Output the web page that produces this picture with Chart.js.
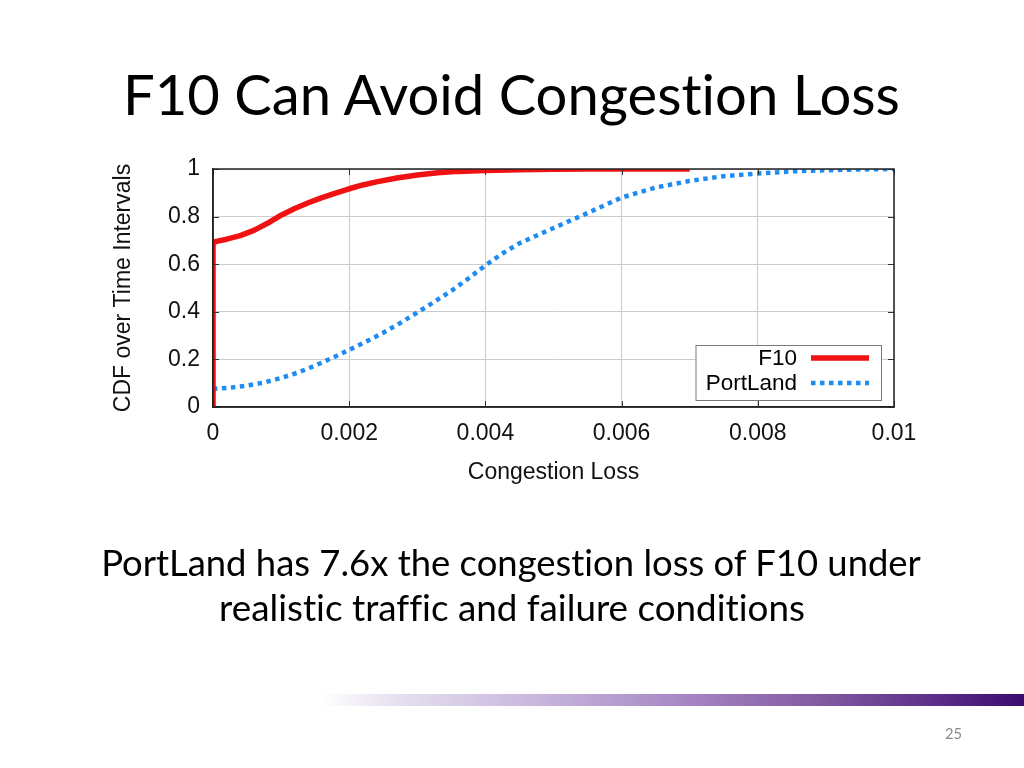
<!DOCTYPE html>
<html>
<head>
<meta charset="utf-8">
<script src="https://cdn.jsdelivr.net/npm/chart.js@4/dist/chart.umd.min.js"></script>
<style>
html, body { margin:0; padding:0; background:#fff; }
body { width:1024px; height:768px; overflow:hidden; position:relative; }
#chart { position:absolute; left:0; top:0; }
.txt { position:absolute; white-space:nowrap; color:#000; margin:0; font-variant-ligatures:none; font-feature-settings:"liga" 0, "clig" 0; }
#bar { position:absolute; left:320px; top:694px; width:704px; height:12px;
  background:linear-gradient(to right, rgba(255,255,255,0) 0%, #e4ddee 12%, #c9b8de 30%, #a98bc6 50%, #80589f 72%, #5a2d88 88%, #3c0a70 100%); }
</style>
</head>
<body>
<canvas id="chart" width="1024" height="768"></canvas>
<div id="title" class="txt">F10 Can Avoid Congestion Loss</div>
<div id="sub1" class="txt">PortLand has 7.6x the congestion loss of F10 under</div>
<div id="sub2" class="txt">realistic traffic and failure conditions</div>
<div id="bar"></div>
<div id="pg" class="txt">25</div>
<script>
// ---- data ----
const xTickValues = [0, 0.002, 0.004, 0.006, 0.008, 0.01];
const xTickLabels = ['0', '0.002', '0.004', '0.006', '0.008', '0.01'];
const yTickValues = [0, 0.2, 0.4, 0.6, 0.8, 1];
const yTickLabels = ['0', '0.2', '0.4', '0.6', '0.8', '1'];
const seriesNames = ['F10', 'PortLand'];

const f10X = [0, 0, 0.00005, 0.0002, 0.0004, 0.0006, 0.0008, 0.001, 0.0012, 0.0014, 0.0016, 0.0018, 0.002, 0.0022, 0.0024, 0.0027, 0.003, 0.0033, 0.0036, 0.004, 0.0045, 0.005, 0.0055, 0.006, 0.007];
const f10Y = [0, 0.69, 0.696, 0.705, 0.72, 0.742, 0.772, 0.806, 0.834, 0.858, 0.88, 0.899, 0.917, 0.933, 0.946, 0.962, 0.975, 0.984, 0.99, 0.994, 0.997, 0.999, 1.0, 1.0, 1.0];

const portlandX = [0, 0, 0.00025, 0.0005, 0.00075, 0.001, 0.00125, 0.0015, 0.00175, 0.002, 0.00225, 0.0025, 0.00275, 0.003, 0.00325, 0.0035, 0.00375, 0.004, 0.00425, 0.0045, 0.00475, 0.005, 0.0055, 0.006, 0.0065, 0.007, 0.0075, 0.008, 0.0085, 0.009, 0.0095, 0.01];
const portlandY = [0, 0.076, 0.081, 0.09, 0.103, 0.122, 0.145, 0.174, 0.206, 0.24, 0.275, 0.312, 0.353, 0.397, 0.442, 0.488, 0.54, 0.595, 0.645, 0.688, 0.72, 0.752, 0.815, 0.88, 0.922, 0.95, 0.97, 0.981, 0.99, 0.995, 0.998, 1.0];

const toPoints = (xs, ys) => xs.map((x, i) => ({ x: x, y: ys[i] }));

// ---- slide text placement (baseline based) ----
const mctx = document.createElement('canvas').getContext('2d');
function placeText(id, family, targetW, baseline, anchorX, align) {
  const el = document.getElementById(id);
  el.style.fontFamily = family;
  el.style.fontSize = '100px';
  const w100 = el.getBoundingClientRect().width;
  const size = 100 * targetW / w100;
  el.style.fontSize = size + 'px';
  const w = el.getBoundingClientRect().width;
  mctx.font = size + 'px ' + family;
  const m = mctx.measureText(el.textContent);
  const A = m.fontBoundingBoxAscent, D = m.fontBoundingBoxDescent;
  const L = Math.ceil(A + D) + 4;
  el.style.lineHeight = L + 'px';
  el.style.top = (baseline - (L - (A + D)) / 2 - A) + 'px';
  el.style.left = (align === 'center' ? anchorX - w / 2 : anchorX) + 'px';
}
placeText('title', 'Lato', 777, 115, 123, 'left');
placeText('sub1', 'Lato', 820, 576, 511, 'center');
placeText('sub2', 'Lato', 586, 621, 512, 'center');
placeText('pg', 'Lato', 17, 739, 945, 'left');
document.getElementById('pg').style.color = '#8a8a8a';

// ---- chart ----
const frame = {
  id: 'frame',
  afterDatasetsDraw(chart) {
    const { ctx, chartArea: a, scales } = chart;
    ctx.save();
    // inward tick marks (mirrored)
    ctx.strokeStyle = '#333';
    ctx.lineWidth = 1;
    ctx.beginPath();
    xTickValues.forEach(v => {
      const px = Math.round(scales.x.getPixelForValue(v)) + 0.5;
      ctx.moveTo(px, a.bottom); ctx.lineTo(px, a.bottom - 6);
      ctx.moveTo(px, a.top); ctx.lineTo(px, a.top + 6);
    });
    yTickValues.forEach(v => {
      const py = Math.round(scales.y.getPixelForValue(v)) + 0.5;
      ctx.moveTo(a.left, py); ctx.lineTo(a.left + 6, py);
      ctx.moveTo(a.right, py); ctx.lineTo(a.right - 6, py);
    });
    ctx.stroke();
    // plot border
    ctx.strokeStyle = '#222';
    ctx.lineWidth = 1.5;
    ctx.strokeRect(a.left, a.top, a.right - a.left, a.bottom - a.top);

    // legend box
    const bx = a.right - 198.5, by = a.bottom - 62, bw = 185.5, bh = 55;
    ctx.fillStyle = '#fff';
    ctx.fillRect(bx, by, bw, bh);
    ctx.strokeStyle = '#7a7a7a';
    ctx.lineWidth = 1;
    ctx.strokeRect(bx + 0.5, by + 0.5, bw, bh);
    const rows = [a.bottom - 49, a.bottom - 24];
    chart.data.datasets.forEach((ds, i) => {
      const y = rows[i];
      ctx.fillStyle = '#000';
      ctx.font = '22.5px "Liberation Sans", Arial, sans-serif';
      ctx.textAlign = 'right';
      ctx.textBaseline = 'middle';
      ctx.fillText(ds.label, a.right - 97, y + 1);
      ctx.beginPath();
      ctx.strokeStyle = ds.borderColor;
      ctx.lineWidth = ds.borderWidth;
      ctx.setLineDash(ds.borderDash || []);
      ctx.lineCap = 'butt';
      ctx.moveTo(a.right - 83, y);
      ctx.lineTo(a.right - 25, y);
      ctx.stroke();
      ctx.setLineDash([]);
    });
    ctx.restore();
  }
};

const tickFont = { family: '"Liberation Sans", Arial, sans-serif', size: 23 };
const titleFont = { family: '"Liberation Sans", Arial, sans-serif', size: 23 };

new Chart(document.getElementById('chart'), {
  type: 'line',
  data: {
    datasets: [
      { label: seriesNames[0], data: toPoints(f10X, f10Y), borderColor: '#f01212', borderWidth: 5.5,
        pointRadius: 0, tension: 0, fill: false, borderCapStyle: 'butt', borderJoinStyle: 'round' },
      { label: seriesNames[1], data: toPoints(portlandX, portlandY), borderColor: '#1e8cf0', borderWidth: 4.5,
        borderDash: [4.5, 4.5], pointRadius: 0, tension: 0, fill: false, borderCapStyle: 'butt' }
    ]
  },
  options: {
    responsive: false,
    animation: false,
    events: [],
    layout: { padding: { left: 100, right: 130, top: 169, bottom: 271 } },
    plugins: { legend: { display: false }, tooltip: { enabled: false }, title: { display: false } },
    scales: {
      x: {
        type: 'linear', min: 0, max: 0.01,
        afterBuildTicks: s => { s.ticks = xTickValues.map(v => ({ value: v })); },
        afterFit: s => { s.height = 90; },
        ticks: { callback: (v, i) => xTickLabels[i], font: tickFont, color: '#111', padding: 13, maxRotation: 0, autoSkip: false },
        grid: { color: '#cccccc', lineWidth: 1, drawTicks: false },
        border: { display: true, color: '#222', width: 1.5 },
        title: { display: true, text: 'Congestion Loss', font: titleFont, color: '#111', padding: { top: 0, bottom: 11 } }
      },
      y: {
        type: 'linear', min: 0, max: 1,
        afterBuildTicks: s => { s.ticks = yTickValues.map(v => ({ value: v })); },
        afterFit: s => { s.width = 113; },
        ticks: { callback: (v, i) => yTickLabels[i], font: tickFont, color: '#111', padding: 13, autoSkip: false },
        grid: { color: '#cccccc', lineWidth: 1, drawTicks: false },
        border: { display: true, color: '#222', width: 1.5 },
        title: { display: true, text: 'CDF over Time Intervals', font: titleFont, color: '#111', padding: { top: 10, bottom: 0 } }
      }
    }
  },
  plugins: [frame]
});
</script>
</body>
</html>
